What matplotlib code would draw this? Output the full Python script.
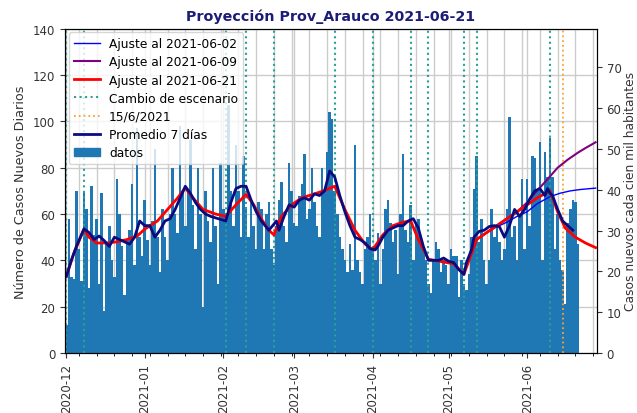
import matplotlib
matplotlib.use("Agg")
import matplotlib.pyplot as plt
import matplotlib.dates as mdates
from matplotlib.lines import Line2D
from matplotlib.patches import Patch
import pandas as pd

# ---------------- data ----------------
start_date = "2020-12-01"
daily_cases = [
    12, 58, 33, 32, 70, 45, 31,
    70, 62, 28, 72, 51, 58, 30,
    69, 18, 48, 55, 40, 33, 75,
    60, 46, 25, 49, 53, 73, 38,
    97, 50, 42, 66, 49, 38, 57,
    88, 50, 35, 62, 50, 40, 60,
    80, 60, 52, 98, 70, 55, 70,
    92, 64, 45, 80, 60, 20, 70,
    57, 48, 80, 55, 30, 82, 62,
    60, 107, 70, 55, 90, 70, 50,
    85, 63, 50, 66, 55, 45, 65,
    62, 45, 60, 65, 45, 38, 55,
    66, 74, 55, 48, 82, 70, 56,
    55, 68, 73, 86, 58, 62, 80,
    65, 55, 50, 80, 70, 87, 104,
    101, 70, 60, 50, 45, 40, 35,
    47, 36, 90, 40, 35, 30, 45,
    50, 60, 45, 40, 52, 30, 45,
    62, 66, 56, 48, 53, 34, 60,
    86, 53, 48, 64, 40, 56, 58,
    50, 45, 40, 30, 26, 40, 48,
    45, 35, 40, 38, 30, 45, 42,
    42, 24, 40, 30, 27, 34, 50,
    71, 85, 48, 58, 40, 30, 40,
    62, 50, 55, 48, 40, 45, 62,
    102, 50, 55, 40, 60, 75, 45,
    75, 55, 85, 84, 70, 91, 40,
    87, 76, 93, 76, 45, 60, 40,
    36, 21, 56, 62, 66, 65, 47,
]

avg7_dates = ["2020-12-01", "2020-12-03", "2020-12-05", "2020-12-08", "2020-12-10",
              "2020-12-12", "2020-12-14", "2020-12-16", "2020-12-18", "2020-12-20",
              "2020-12-22", "2020-12-24", "2020-12-26", "2020-12-28", "2020-12-30",
              "2021-01-01", "2021-01-03", "2021-01-05", "2021-01-07", "2021-01-09",
              "2021-01-11", "2021-01-13", "2021-01-15", "2021-01-17", "2021-01-19",
              "2021-01-21", "2021-01-23", "2021-01-25", "2021-01-27", "2021-01-30",
              "2021-02-02", "2021-02-04", "2021-02-06", "2021-02-08", "2021-02-10",
              "2021-02-12", "2021-02-14", "2021-02-16", "2021-02-19", "2021-02-22",
              "2021-02-23", "2021-02-25", "2021-02-27", "2021-03-01", "2021-03-03",
              "2021-03-05", "2021-03-07", "2021-03-09", "2021-03-11", "2021-03-13",
              "2021-03-15", "2021-03-17", "2021-03-19", "2021-03-21", "2021-03-23",
              "2021-03-25", "2021-03-27", "2021-03-29", "2021-03-31", "2021-04-02",
              "2021-04-03", "2021-04-05", "2021-04-07", "2021-04-09", "2021-04-11",
              "2021-04-13", "2021-04-15", "2021-04-17", "2021-04-19", "2021-04-21",
              "2021-04-23", "2021-04-25", "2021-04-27", "2021-04-29", "2021-05-01",
              "2021-05-03", "2021-05-05", "2021-05-07", "2021-05-08", "2021-05-10",
              "2021-05-11", "2021-05-13", "2021-05-15", "2021-05-17", "2021-05-19",
              "2021-05-21", "2021-05-23", "2021-05-25", "2021-05-27", "2021-05-29",
              "2021-05-31", "2021-06-02", "2021-06-04", "2021-06-06", "2021-06-08",
              "2021-06-09", "2021-06-10", "2021-06-11", "2021-06-13", "2021-06-15",
              "2021-06-17", "2021-06-19"]
avg7_vals = [33, 40, 46, 53.6, 52,
             49, 50.5, 48.5, 46, 50,
             49, 48, 47, 50, 57,
             55, 55, 50, 53, 57,
             58, 62, 67, 72, 69,
             65, 62, 60, 59, 58,
             57, 65, 71, 72, 72,
             66, 61, 57, 53, 57,
             53, 59, 64, 63, 66,
             67, 66, 68.7, 68, 70,
             78.6, 76, 68, 61, 55,
             50, 49, 47.5, 45, 44.5,
             46, 50, 53, 54, 55,
             55, 57, 58, 54, 46,
             40, 40, 40, 41, 39.6,
             39, 36, 34, 39, 44.6,
             50, 52.5, 53, 54.6, 55,
             54.6, 50, 55, 62, 59,
             62, 66.5, 70, 71, 68,
             71, 69, 68, 62, 57,
             55, 53]

fit_0621_dates = ["2020-12-01", "2020-12-04", "2020-12-08", "2020-12-10", "2020-12-13",
                  "2020-12-17", "2020-12-21", "2020-12-25", "2020-12-29", "2021-01-01",
                  "2021-01-06", "2021-01-10", "2021-01-14", "2021-01-17", "2021-01-20",
                  "2021-01-24", "2021-01-29", "2021-02-02", "2021-02-06", "2021-02-10",
                  "2021-02-13", "2021-02-16", "2021-02-19", "2021-02-21", "2021-02-24",
                  "2021-02-28", "2021-03-04", "2021-03-09", "2021-03-13", "2021-03-17",
                  "2021-03-21", "2021-03-25", "2021-03-29", "2021-04-01", "2021-04-05",
                  "2021-04-09", "2021-04-13", "2021-04-16", "2021-04-19", "2021-04-23",
                  "2021-04-28", "2021-05-03", "2021-05-07", "2021-05-09", "2021-05-12",
                  "2021-05-16", "2021-05-20", "2021-05-24", "2021-05-28", "2021-06-01",
                  "2021-06-05", "2021-06-10", "2021-06-13", "2021-06-16", "2021-06-20",
                  "2021-06-24", "2021-06-28"]
fit_0621_vals = [33, 43, 53.5, 50, 47.5,
                 47.5, 48, 49, 50.5, 53.5,
                 57, 62, 67, 71.3, 67,
                 62, 60, 59, 64, 68.5,
                 64, 58, 53, 51, 59,
                 64, 67, 68.7, 70.2, 72,
                 62, 53, 47, 44.6, 51,
                 55, 56.5, 57, 49, 40.5,
                 39.5, 38.5, 34, 40, 49,
                 52, 55, 58, 61, 64,
                 67, 70, 61, 54, 50,
                 47.5, 45.5]

fit_0609_dates = ["2021-05-12", "2021-05-16", "2021-05-20", "2021-05-24", "2021-05-28",
                  "2021-06-01", "2021-06-04", "2021-06-09", "2021-06-13", "2021-06-17",
                  "2021-06-21", "2021-06-24", "2021-06-28"]
fit_0609_vals = [49, 52, 55, 58, 61, 65, 69, 75, 80, 83.5, 86.5, 88.5, 91]

fit_0602_dates = ["2021-05-12", "2021-05-16", "2021-05-20", "2021-05-24", "2021-05-28",
                  "2021-06-01", "2021-06-05", "2021-06-10", "2021-06-14", "2021-06-18",
                  "2021-06-22", "2021-06-28"]
fit_0602_vals = [49, 52, 54.5, 56.5, 59, 61, 64.5, 67.5, 69, 70, 70.6, 71.2]

scenario_changes = ["2020-12-01", "2020-12-08", "2021-02-02", "2021-02-10", "2021-02-21",
                    "2021-03-17", "2021-04-01", "2021-04-16", "2021-04-23", "2021-05-07",
                    "2021-05-12", "2021-06-10"]
reference_date = "2021-06-15"

left_ticks = [0, 20, 40, 60, 80, 100, 120, 140]
right_ticks = [0, 10, 20, 30, 40, 50, 60, 70]
per100k_factor = 0.5676

# ---------------- plot ----------------
dates = pd.date_range(start_date, periods=len(daily_cases), freq="D")

fig = plt.figure(figsize=(6.37, 4.14), dpi=100)
ax = fig.add_axes([0.102, 0.145, 0.835, 0.783])

ax.bar(dates, daily_cases, width=1.0, color="#1f77b4", zorder=2)
for d in scenario_changes:
    ax.axvline(pd.Timestamp(d), color="#2aa198", ls=":", lw=1.5, zorder=3)
ax.axvline(pd.Timestamp(reference_date), color="#ffa033", ls=":", lw=1.3, zorder=3)

ax.plot(pd.to_datetime(fit_0602_dates), fit_0602_vals, color="blue", lw=1, zorder=4)
ax.plot(pd.to_datetime(fit_0609_dates), fit_0609_vals, color="purple", lw=1.5, zorder=4)
ax.plot(pd.to_datetime(fit_0621_dates), fit_0621_vals, color="red", lw=2, zorder=5)
ax.plot(pd.to_datetime(avg7_dates), avg7_vals, color="#0b0b80", lw=2, zorder=6)

ax.set_xlim(pd.Timestamp("2020-11-30 12:00"), pd.Timestamp("2021-06-28 12:00"))
ax.set_ylim(0, 140)
ax.set_yticks(left_ticks)
ax.xaxis.set_major_locator(mdates.MonthLocator())
ax.xaxis.set_major_formatter(mdates.DateFormatter("%Y-%m"))
ax.xaxis.set_minor_locator(mdates.WeekdayLocator(byweekday=mdates.SU))
ax.grid(True, which="both", color="#cccccc", lw=1, zorder=0)
ax.set_axisbelow(True)
plt.setp(ax.get_xticklabels(), rotation=90)
ax.tick_params(labelsize=8.5, colors="#333333")
ax.set_ylabel("Número de Casos Nuevos Diarios", fontsize=9.2, color="#333333")
ax.set_title("Proyección Prov_Arauco 2021-06-21", fontsize=10.3, fontweight="bold",
             color="#1c1c78")

ax2 = ax.twinx()
ax2.set_ylim(0, 140 * per100k_factor)
ax2.set_yticks(right_ticks)
ax2.tick_params(labelsize=8.5, colors="#333333")
ax2.set_ylabel("Casos nuevos cada cien mil habitantes", fontsize=8.8, color="#333333",
               labelpad=2)

handles = [
    Line2D([], [], color="blue", lw=1),
    Line2D([], [], color="purple", lw=1.5),
    Line2D([], [], color="red", lw=2),
    Line2D([], [], color="#2aa198", ls=":", lw=1.5),
    Line2D([], [], color="#ffa033", ls=":", lw=1.3),
    Line2D([], [], color="#0b0b80", lw=2),
    Patch(color="#1f77b4"),
]
labels = ["Ajuste al 2021-06-02", "Ajuste al 2021-06-09", "Ajuste al 2021-06-21",
          "Cambio de escenario", "15/6/2021", "Promedio 7 días", "datos"]
leg = ax.legend(handles, labels, loc="upper left", fontsize=8.8, framealpha=0.8,
                borderaxespad=0.3, handlelength=2.2, handletextpad=0.7,
                labelspacing=0.42)
leg.set_zorder(10)

fig.savefig("out.png", dpi=100)
